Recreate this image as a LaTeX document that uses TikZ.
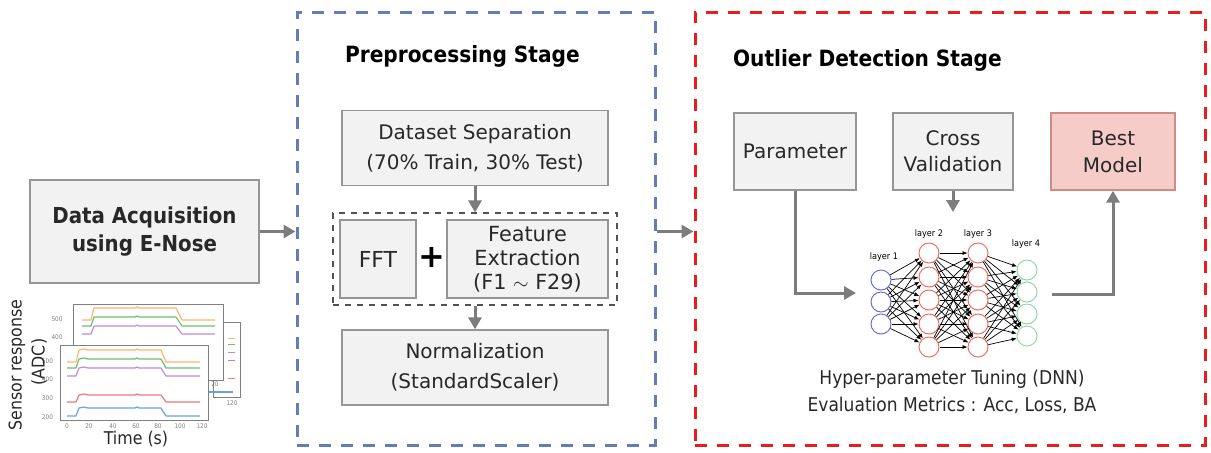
\documentclass[tikz,border=0pt]{standalone}
\usepackage{fontspec}
\setmainfont{DejaVu Sans}
\newfontfamily\condfont{DejaVu Sans Condensed}
\usetikzlibrary{arrows.meta,positioning}

\definecolor{boxfill}{RGB}{242,242,242}
\definecolor{boxline}{RGB}{150,150,150}
\definecolor{arrgray}{RGB}{125,125,125}
\definecolor{stageblue}{RGB}{100,125,185}
\definecolor{stagered}{RGB}{232,30,30}
\definecolor{bestfill}{RGB}{246,204,200}
\definecolor{bestline}{RGB}{205,140,135}
\definecolor{nnblue}{RGB}{110,110,210}
\definecolor{nnred}{RGB}{240,110,100}
\definecolor{nngreen}{RGB}{150,215,170}
\definecolor{sorange}{RGB}{255,180,110}
\definecolor{sgreen}{RGB}{110,190,110}
\definecolor{spurple}{RGB}{190,140,220}
\definecolor{sred}{RGB}{240,120,120}
\definecolor{sblue}{RGB}{110,160,220}
\definecolor{txtgray}{RGB}{40,40,40}

\tikzset{
  box/.style={draw=boxline,fill=boxfill,line width=0.7pt,align=center,inner sep=0pt,
    text=txtgray,font=\fontsize{10}{15}\selectfont},
  flow/.style={-{Triangle[length=6pt,width=6.5pt]},draw=arrgray,line width=1.5pt},
  stageframe/.style={draw,dash pattern=on 6pt off 5pt,line width=1.5pt,inner sep=0pt},
  stagetitle/.style={anchor=west,font=\condfont\bfseries\fontsize{11.2}{13}\selectfont},
  neuron/.style={circle,draw,fill=white,line width=0.5pt,minimum size=10pt,inner sep=0pt},
  synapse/.style={-{Latex[length=2.5pt,width=2pt]},line width=0.35pt,black},
  laylabel/.style={font=\condfont\fontsize{4.5}{5}\selectfont},
  tick/.style={font=\condfont\fontsize{3.2}{3.5}\selectfont,text=gray},
  axlabel/.style={text=txtgray,font=\condfont\fontsize{8.8}{10}\selectfont},
}

\begin{document}
\begin{tikzpicture}[x=0.5pt,y=-0.5pt]
    \useasboundingbox (0,0) rectangle (1211,452);

    % stage frames
    \node[stageframe,draw=stageblue,minimum width=179pt,minimum height=216.5pt] (pre) at (476,228.5) {};
    \node[stageframe,draw=stagered,minimum width=255pt,minimum height=216.5pt] (det) at (950,228.5) {};
    \node[stagetitle] (pretitle) at (338,56) {Preprocessing Stage};
    \node[stagetitle] (dettitle) at (726,60) {Outlier Detection Stage};

    % data acquisition
    \node[box,minimum width=114.5pt,minimum height=51.5pt,font=\condfont\bfseries\fontsize{11}{14}\selectfont] (acq) at (144.5,231.5) {Data Acquisition\\using E-Nose};

    % preprocessing
    \node[box,minimum width=133pt,minimum height=37.5pt] (sep) at (475,148) {Dataset Separation\\(70\% Train, 30\% Test)};
    \node[draw=txtgray!80,dashed,line width=0.6pt,minimum width=142pt,minimum height=46pt,inner sep=0pt] (group) at (475,259) {};
    \node[box,minimum width=38pt,minimum height=39pt,font=\fontsize{11}{12}\selectfont] (fft) at (378,259) {FFT};
    \node[box,minimum width=80.5pt,minimum height=39pt,font=\fontsize{10.4}{12}\selectfont] (feat) at (527.5,259) {Feature\\Extraction\\(F1 $\sim$ F29)};
    \node[font=\bfseries\fontsize{16}{16}\selectfont] (plus) at (431.5,257) {+};
    \node[box,minimum width=133pt,minimum height=37.5pt] (norm) at (475,367.5) {Normalization\\(StandardScaler)};

    \draw[flow] (sep) -- (group);
    \draw[flow] (group) -- (norm);
    \draw[flow] (acq.east) -- (acq.east -| pre.west);
    \draw[flow] (acq.east -| pre.east) -- (acq.east -| det.west);

    % outlier detection
    \node[box,minimum width=61pt,minimum height=38.5pt] (param) at (795,151.5) {Parameter};
    \node[box,minimum width=60pt,minimum height=38.5pt,font=\fontsize{10}{12.8}\selectfont] (cross) at (953,151.5) {Cross\\Validation};
    \node[box,draw=bestline,fill=bestfill,minimum width=62pt,minimum height=38.5pt,font=\fontsize{10}{13.5}\selectfont] (best) at (1113,151.5) {Best\\Model};

    % neural network
    \foreach \y [count=\i] in {280,302,324}
        \node[neuron,draw=nnblue] (a\i) at (881,\y) {};
    \foreach \y [count=\i] in {253,277,300,324,347} {
        \node[neuron,draw=nnred] (b\i) at (929,\y) {};
        \node[neuron,draw=nnred] (c\i) at (978,\y) {};
    }
    \foreach \y [count=\i] in {270,292,314,336}
        \node[neuron,draw=nngreen] (d\i) at (1027,\y) {};
    \foreach \i in {1,...,3}
        \foreach \j in {1,...,5}
            \draw[synapse] (a\i) -- (b\j);
    \foreach \i in {1,...,5}
        \foreach \j in {1,...,5}
            \draw[synapse] (b\i) -- (c\j);
    \foreach \i in {1,...,5}
        \foreach \j in {1,...,4}
            \draw[synapse] (c\i) -- (d\j);
    \node[laylabel] (lab1) at (884,257) {layer 1};
    \node[laylabel] (lab2) at (929,234) {layer 2};
    \node[laylabel] (lab3) at (978,234) {layer 3};
    \node[laylabel] (lab4) at (1026,244) {layer 4};

    \coordinate (nnin) at (856,293);
    \coordinate (nnout) at (1052,294);
    \coordinate (cvend) at (953,212);
    \draw[flow] (param) |- (nnin);
    \draw[flow] (cross) -- (cvend);
    \draw[flow] (nnout) -| (best);

    \node[align=center,text=txtgray,font=\condfont\fontsize{9.5}{13.5}\selectfont] (tuning) at (952,391.5) {Hyper-parameter Tuning (DNN)\\Evaluation Metrics : Acc, Loss, BA};

    % sensor plots
    \draw[gray,line width=0.5pt,fill=white] (213,322) rectangle (240,397);
    \foreach \y/\c in {338/sorange,344/sgreen,352/spurple,360/sred,378/sred}
        \draw[\c,line width=0.5pt] (228,\y) -- (235,\y);
    \draw[sblue,line width=0.6pt] (208,392) -- (233,392);
    \node[tick] (t20b) at (215,384) {20};
    \node[tick] (t120c) at (232,403) {120};
    \draw[gray,line width=0.5pt,fill=white] (73,304) rectangle (223,380);
    \begin{scope}[shift={(15,-42)}]
        \foreach \lo/\hi/\c in {362/350/sorange,368/359/sgreen,376/368/spurple}
            \draw[\c,line width=0.6pt,line join=round] (67,\lo) -- (76,\lo) -- (79,\hi) -- (120,\hi) -- (122,\hi-1) -- (124,\hi) -- (161,\hi) -- (167,\lo) -- (200,\lo);
    \end{scope}
    \node[tick] (t500b) at (57,319) {500};
    \node[tick] (t400b) at (57,337) {400};
    \draw[gray,line width=0.5pt,fill=white] (60,345) rectangle (208,420);
    \foreach \lo/\hi/\c in {362/350/sorange,368/359/sgreen,376/368/spurple,402/395/sred,416/408/sblue}
        \draw[\c,line width=0.6pt,line join=round] (67,\lo) -- (76,\lo) -- (79,\hi) -- (84,\hi-1) -- (88,\hi) -- (135,\hi) -- (137,\hi-1) -- (139,\hi) -- (161,\hi) -- (166,\lo) -- (200,\lo);
    \foreach \v/\y in {500/361,400/379,300/398,200/417}
        \node[tick,anchor=east] (y\v) at (60,\y) {\v};
    \foreach \v/\x in {0/67,20/89,40/113,60/136,80/158,100/180,120/202}
        \node[tick] (x\v) at (\x,426) {\v};
    \node[axlabel,rotate=90] (ylab1) at (17,365) {Sensor response};
    \node[axlabel,rotate=90] (ylab2) at (39,362) {(ADC)};
    \node[axlabel] (xlab) at (136,439) {Time (s)};
\end{tikzpicture}
\end{document}
